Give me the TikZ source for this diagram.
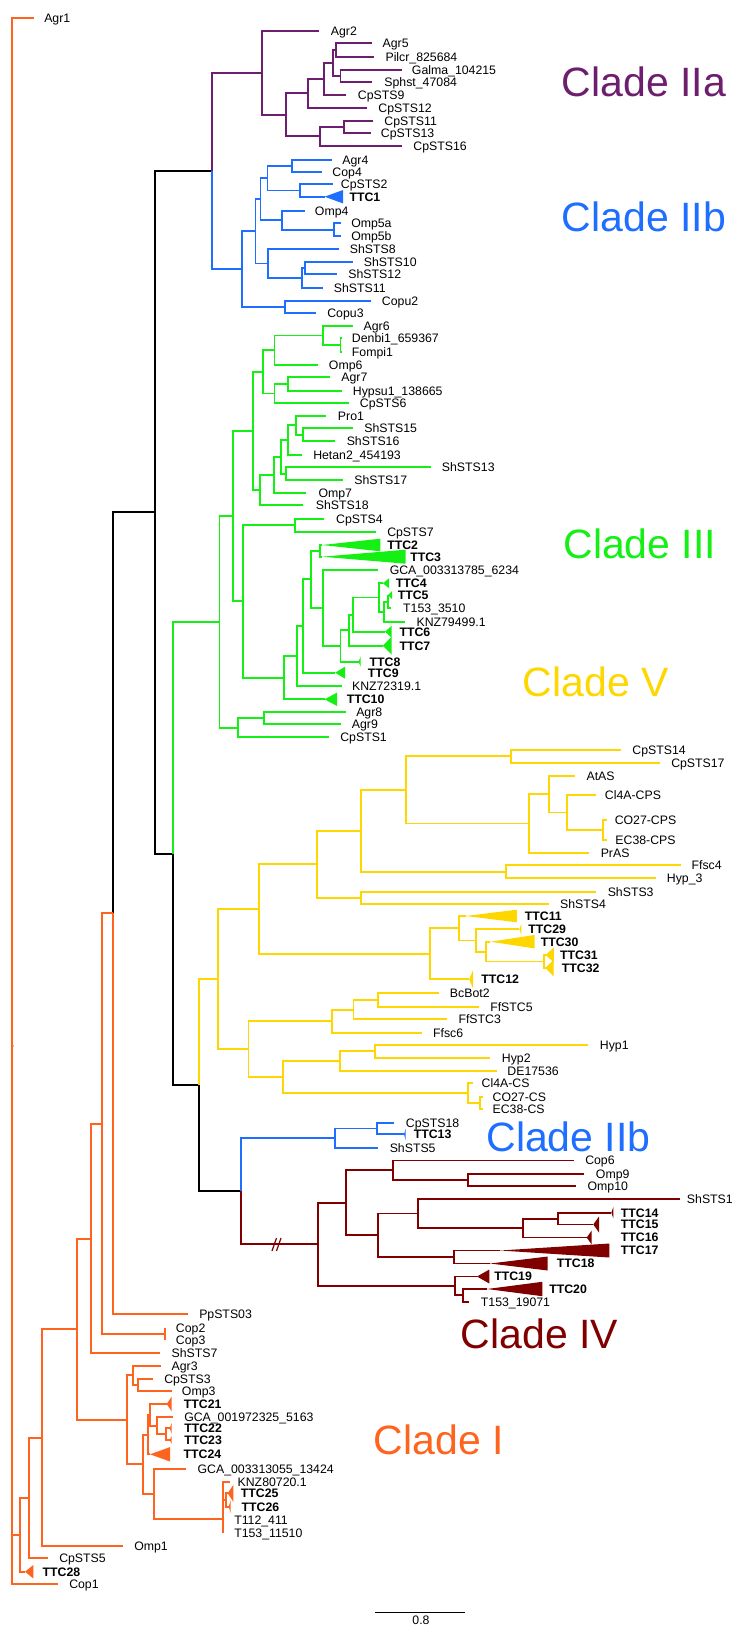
\documentclass[tikz,border=0pt]{standalone}
\usepackage{fontspec}
\setmainfont{Liberation Sans}
\definecolor{colI}{RGB}{255,100,30}
\definecolor{colIIa}{RGB}{110,30,110}
\definecolor{colIIb}{RGB}{30,110,255}
\definecolor{colIII}{RGB}{20,240,20}
\definecolor{colIV}{RGB}{128,0,0}
\definecolor{colV}{RGB}{255,215,0}
\tikzset{
  lab/.style={anchor=base west, inner sep=0pt, text=black, font=\fontsize{12.3}{14}\selectfont, yshift=-4.4pt},
  blab/.style={lab, font=\fontsize{12.3}{14}\selectfont\bfseries},
  clade/.style={anchor=base west, inner sep=0pt, text depth=0pt, font=\fontsize{41}{46}\selectfont},
}
% leaf: name, tip x, y, label x, text
\newcommand{\leafnode}[5]{\coordinate (#1) at (#2,#3); \node[lab] (#1l) at (#4,#3) {#5};}
% collapsed clade: name, apex x, y, base x, half height, label x, text
\newcommand{\cladewedge}[7]{\coordinate (#1) at (#2,#3); \fill (#1) -- (#4,#3-#5) -- (#4,#3+#5) -- cycle; \node[blab] (#1l) at (#6,#3) {#7};}

\begin{document}
\begin{tikzpicture}[x=1pt,y=-1pt,line width=1.9pt]
\useasboundingbox (0,0) rectangle (733,1628);

% backbone
\coordinate (R) at (12.3,1046);
\coordinate (N20) at (20,1534.9);
\coordinate (N29) at (29.3,1498);
\coordinate (N42) at (41.7,1437.6);
\coordinate (N77) at (76.7,1329.2);
\coordinate (N92) at (91,1238.6);
\coordinate (N102) at (101.7,1123.9);
\coordinate (N113) at (113.3,913.4);
\coordinate (N155) at (155,512.4);
\coordinate (N173) at (173.3,853.6);
\coordinate (N199) at (199,1085.2);
\coordinate (N241) at (240.7,1191.3);
\coordinate (np) at (212,171.1);

\draw (N113) |- (N155);
\draw (N155) |- (np) (N155) |- (N173);
\draw (N173) |- (N199);
\draw (N199) |- (N241);
\fill (R) circle (1.3);

% Clade IIa
\begin{scope}[color=colIIa]
\leafnode{Agr2}{319.3}{30.7}{330}{Agr2}
\leafnode{Agr5}{372.2}{43.3}{381.7}{Agr5}
\leafnode{Pilcr}{374}{56.7}{384.6}{Pilcr\_825684}
\leafnode{Galma}{402.2}{70}{411}{Galma\_104215}
\leafnode{Sphst}{372.2}{81.7}{383.5}{Sphst\_47084}
\leafnode{CpSTS9}{345.8}{95}{357}{CpSTS9}
\leafnode{CpSTS12}{366.9}{107.7}{377.5}{CpSTS12}
\leafnode{CpSTS11}{373.3}{120.7}{383.5}{CpSTS11}
\leafnode{CpSTS13}{370.5}{132.7}{380}{CpSTS13}
\leafnode{CpSTS16}{402.2}{145.7}{412.5}{CpSTS16}
\coordinate (pa) at (336.3,50);
\coordinate (pb) at (340.5,75.8);
\coordinate (pc) at (332.7,62.9);
\coordinate (pd) at (323.9,79);
\coordinate (pe) at (307.7,93.3);
\coordinate (pf) at (344,126.7);
\coordinate (pg) at (320.4,136.2);
\coordinate (ph) at (285.8,114.8);
\coordinate (pi) at (261.8,72.7);
\draw (np) |- (pi);
\draw (pi) |- (Agr2) (pi) |- (ph);
\draw (ph) |- (pe) (ph) |- (pg);
\draw (pe) |- (pd) (pe) |- (CpSTS12);
\draw (pd) |- (pc) (pd) |- (CpSTS9);
\draw (pc) |- (pa) (pc) |- (pb);
\draw (pa) |- (Agr5) (pa) |- (Pilcr);
\draw (pb) |- (Galma) (pb) |- (Sphst);
\draw (pg) |- (pf) (pg) |- (CpSTS16);
\draw (pf) |- (CpSTS11) (pf) |- (CpSTS13);
\node[clade] (IIa) at (561,96.7) {Clade IIa};
\end{scope}

% Clade IIb
\begin{scope}[color=colIIb]
\leafnode{Agr4}{331.7}{160}{341.5}{Agr4}
\leafnode{Cop4}{322}{172.3}{331.5}{Cop4}
\leafnode{CpSTS2}{333}{184.3}{340}{CpSTS2}
\cladewedge{TTC1}{324.6}{196.7}{343}{6.7}{348.6}{TTC1}
\leafnode{Omp4}{305.2}{210.7}{314}{Omp4}
\leafnode{Omp5a}{340.5}{223.3}{350.3}{Omp5a}
\leafnode{Omp5b}{340.5}{236}{350.3}{Omp5b}
\leafnode{ShSTS8}{338.7}{249}{349}{ShSTS8}
\leafnode{ShSTS10}{352.8}{262.3}{363}{ShSTS10}
\leafnode{ShSTS12}{337}{274.3}{347.5}{ShSTS12}
\leafnode{ShSTS11}{322.8}{287.7}{333}{ShSTS11}
\leafnode{Copu2}{370.5}{300.7}{381}{Copu2}
\leafnode{Copu3}{315.8}{313.3}{326.4}{Copu3}
\coordinate (ba) at (292.2,166.2);
\coordinate (bb) at (300,190.5);
\coordinate (bc) at (267.5,178.3);
\coordinate (bd) at (334.1,229.7);
\coordinate (be) at (282.3,220.2);
\coordinate (bg) at (260.5,199.2);
\coordinate (bh) at (305.2,268.3);
\coordinate (bi) at (301.7,278);
\coordinate (bj) at (268.2,263.5);
\coordinate (bk) at (255.5,231.4);
\coordinate (bl) at (285.1,307);
\coordinate (bm) at (241.7,269.2);
\draw (np) |- (bm);
\draw (bm) |- (bk) (bm) |- (bl);
\draw (bk) |- (bg) (bk) |- (bj);
\draw (bg) |- (bc) (bg) |- (be);
\draw (bc) |- (ba) (bc) |- (bb);
\draw (ba) |- (Agr4) (ba) |- (Cop4);
\draw (bb) |- (CpSTS2) (bb) |- (TTC1);
\draw (be) |- (Omp4) (be) |- (bd);
\draw (bd) |- (Omp5a) (bd) |- (Omp5b);
\draw (bj) |- (ShSTS8) (bj) |- (bi);
\draw (bi) |- (bh) (bi) |- (ShSTS11);
\draw (bh) |- (ShSTS10) (bh) |- (ShSTS12);
\draw (bl) |- (Copu2) (bl) |- (Copu3);
\node[clade] (IIbtop) at (561,231.7) {Clade IIb};
% lower IIb
\leafnode{CpSTS18}{394.4}{1122.7}{405}{CpSTS18}
\cladewedge{TTC13}{404}{1134.3}{405.7}{6}{412.8}{TTC13}
\leafnode{ShSTS5}{377.5}{1147.7}{388.8}{ShSTS5}
\coordinate (bn) at (376.8,1128.5);
\coordinate (bo) at (335.2,1138.1);
\draw (N241) |- (bo);
\draw (bo) |- (bn) (bo) |- (ShSTS5);
\draw (bn) |- (CpSTS18) (bn) |- (TTC13);
\node[clade] (IIblow) at (485.5,1151.7) {Clade IIb};
\end{scope}

% Clade III
\begin{scope}[color=colIII]
\leafnode{Agr6}{352.8}{326}{362.7}{Agr6}
\leafnode{Denbi}{342}{338.3}{351}{Denbi1\_659367}
\leafnode{Fompi}{342}{351.7}{351}{Fompi1}
\leafnode{Omp6}{317.6}{365}{328}{Omp6}
\leafnode{Agr7}{329.9}{376.7}{340.5}{Agr7}
\leafnode{Hypsu}{342.2}{390.7}{352}{Hypsu1\_138665}
\leafnode{CpSTS6}{348.6}{403.3}{359}{CpSTS6}
\leafnode{Pro1}{326.4}{416}{337}{Pro1}
\leafnode{ShSTS15}{352.8}{428.3}{363.4}{ShSTS15}
\leafnode{ShSTS16}{335.2}{441}{345.8}{ShSTS16}
\leafnode{Hetan}{301.7}{455}{312.3}{Hetan2\_454193}
\leafnode{ShSTS13}{431.1}{467.3}{441}{ShSTS13}
\leafnode{ShSTS17}{343}{480}{353.5}{ShSTS17}
\leafnode{Omp7}{306.3}{492.7}{317.6}{Omp7}
\leafnode{ShSTS18}{303.4}{505.3}{315}{ShSTS18}
\leafnode{CpSTS4}{323.9}{518.7}{335.2}{CpSTS4}
\leafnode{CpSTS7}{375.7}{531.7}{386.3}{CpSTS7}
\cladewedge{TTC2}{322}{545}{380.3}{6.3}{386.3}{TTC2}
\cladewedge{TTC3}{322}{556.7}{405.7}{7}{409.3}{TTC3}
\leafnode{GCAa}{378.2}{570}{388.8}{GCA\_003313785\_6234}
\cladewedge{TTC4}{383}{583.3}{389}{5}{395}{TTC4}
\cladewedge{TTC5}{388}{595}{392}{4}{396.8}{TTC5}
\leafnode{Ta}{391}{608.3}{402.2}{T153\_3510}
\leafnode{KNZa}{405}{621.7}{415.6}{KNZ79499.1}
\cladewedge{TTC6}{385}{631.7}{391.7}{6}{398.6}{TTC6}
\cladewedge{TTC7}{382.8}{645.7}{391.7}{9}{398.6}{TTC7}
\cladewedge{TTC8}{358.6}{661.7}{360.6}{5}{368.7}{TTC8}
\cladewedge{TTC9}{335.2}{672.7}{345}{6}{367}{TTC9}
\leafnode{KNZb}{342.2}{685.7}{351.1}{KNZ72319.1}
\cladewedge{TTC10}{324.6}{699.3}{337}{6.7}{345.8}{TTC10}
\leafnode{Agr8}{345.8}{711.7}{355.3}{Agr8}
\leafnode{Agr9}{340.5}{724}{351}{Agr9}
\leafnode{CpSTS1}{328.8}{737.3}{339.4}{CpSTS1}
\coordinate (ga) at (340.5,345);
\coordinate (gb) at (322.8,335.5);
\coordinate (gc) at (274.5,350.3);
\coordinate (gd) at (288.3,383.7);
\coordinate (ge) at (274.5,393.5);
\coordinate (gf) at (263.3,371.9);
\coordinate (gg) at (303.4,434.7);
\coordinate (gh) at (296.4,425.3);
\coordinate (gi) at (287.6,440.2);
\coordinate (gj) at (285.8,473.7);
\coordinate (gk) at (281,457);
\coordinate (gl) at (274,474.8);
\coordinate (gm) at (260,490);
\coordinate (gn) at (252.7,431);
\coordinate (go) at (294.6,525.2);
\coordinate (gp) at (320.4,550.8);
\coordinate (gq) at (388,601.7);
\coordinate (gr) at (383.9,611.7);
\coordinate (gs) at (379.3,597.5);
\coordinate (gt) at (352.8,614.6);
\coordinate (gu) at (349.3,630.2);
\coordinate (gv) at (340.5,646);
\coordinate (gw) at (322.8,608);
\coordinate (gx) at (311.2,579.4);
\coordinate (gy) at (303.4,626);
\coordinate (gz) at (296.7,655.9);
\coordinate (gA) at (284.3,677.6);
\coordinate (gB) at (242.7,601.4);
\coordinate (gC) at (233,516.2);
\coordinate (gD) at (263.6,717.8);
\coordinate (gE) at (238.2,727.6);
\coordinate (gR) at (219.5,621.9);
\draw (N173) |- (gR);
\draw (gR) |- (gC) (gR) |- (gE);
\draw (gC) |- (gn) (gC) |- (gB);
\draw (gn) |- (gf) (gn) |- (gm);
\draw (gf) |- (gc) (gf) |- (ge);
\draw (gc) |- (gb) (gc) |- (Omp6);
\draw (gb) |- (Agr6) (gb) |- (ga);
\draw (ga) |- (Denbi) (ga) |- (Fompi);
\draw (ge) |- (gd) (ge) |- (CpSTS6);
\draw (gd) |- (Agr7) (gd) |- (Hypsu);
\draw (gm) |- (gl) (gm) |- (ShSTS18);
\draw (gl) |- (gk) (gl) |- (Omp7);
\draw (gk) |- (gi) (gk) |- (gj);
\draw (gi) |- (gh) (gi) |- (Hetan);
\draw (gh) |- (Pro1) (gh) |- (gg);
\draw (gg) |- (ShSTS15) (gg) |- (ShSTS16);
\draw (gj) |- (ShSTS13) (gj) |- (ShSTS17);
\draw (gB) |- (go) (gB) |- (gA);
\draw (go) |- (CpSTS4) (go) |- (CpSTS7);
\draw (gA) |- (gz) (gA) |- (TTC10);
\draw (gz) |- (gy) (gz) |- (KNZb);
\draw (gy) |- (gx) (gy) |- (TTC9);
\draw (gx) |- (gp) (gx) |- (gw);
\draw (gp) |- (TTC2) (gp) |- (TTC3);
\draw (gw) |- (GCAa) (gw) |- (gv);
\draw (gv) |- (gu) (gv) |- (TTC8);
\draw (gu) |- (gt) (gu) |- (TTC7);
\draw (gt) |- (gs) (gt) |- (TTC6);
\draw (gs) |- (TTC4) (gs) |- (gr);
\draw (gr) |- (gq) (gr) |- (KNZa);
\draw (gq) |- (TTC5) (gq) |- (Ta);
\draw (gE) |- (gD) (gE) |- (CpSTS1);
\draw (gD) |- (Agr8) (gD) |- (Agr9);
\node[clade] (III) at (562.5,558.3) {Clade III};
\end{scope}

% Clade V
\begin{scope}[color=colV]
\leafnode{CpSTS14}{620.9}{750}{631.5}{CpSTS14}
\leafnode{CpSTS17}{659.7}{762.7}{670.3}{CpSTS17}
\leafnode{AtAS}{575}{776}{585.6}{AtAS}
\leafnode{ClCPS}{596.2}{795}{604}{Cl4A-CPS}
\leafnode{COCPS}{606.8}{820}{613.8}{CO27-CPS}
\leafnode{ECCPS}{606.8}{840}{614.5}{EC38-CPS}
\leafnode{PrAS}{589.2}{852.7}{599.8}{PrAS}
\leafnode{Ffsc4}{680.9}{865}{690.7}{Ffsc4}
\leafnode{Hypthree}{656.2}{878.3}{666}{Hyp\_3}
\leafnode{ShSTS3}{596.2}{891.7}{606.8}{ShSTS3}
\leafnode{ShSTS4}{548.6}{904}{559.2}{ShSTS4}
\cladewedge{TTC11}{465.7}{916}{516.8}{6.3}{523.9}{TTC11}
\cladewedge{TTC29}{519.4}{929.3}{521.4}{5.5}{527.4}{TTC29}
\cladewedge{TTC30}{490.4}{941.7}{534.5}{6.7}{539.8}{TTC30}
\cladewedge{TTC31}{545.5}{955}{553.9}{7.5}{559.2}{TTC31}
\cladewedge{TTC32}{545.5}{968}{553.5}{8.3}{561}{TTC32}
\cladewedge{TTC12}{469.2}{979.3}{473}{9}{480.5}{TTC12}
\leafnode{BcBot2}{438.5}{993.3}{449}{BcBot2}
\leafnode{FfSTC5}{479.1}{1006.7}{489.3}{FfSTC5}
\leafnode{FfSTC3}{447.3}{1019.3}{457.6}{FfSTC3}
\leafnode{Ffsc6}{421.9}{1032.7}{432.2}{Ffsc6}
\leafnode{Hyp1}{588.4}{1045}{599}{Hyp1}
\leafnode{Hyp2}{490.4}{1057.7}{501}{Hyp2}
\leafnode{DE}{497}{1070.7}{506.5}{DE17536}
\leafnode{ClCS}{473}{1083.3}{480.7}{Cl4A-CS}
\leafnode{COCS}{483}{1096.7}{491.7}{CO27-CS}
\leafnode{ECCS}{483}{1109}{491.7}{EC38-CS}
\coordinate (ya) at (511.4,756.3);
\coordinate (yb) at (603.3,830);
\coordinate (yc) at (566.9,812.5);
\coordinate (yd) at (548.6,794.3);
\coordinate (ye) at (529.2,823.5);
\coordinate (yf) at (406.4,789.9);
\coordinate (yg) at (505.8,871.7);
\coordinate (yh) at (360.6,830.8);
\coordinate (yi) at (360.6,897.8);
\coordinate (yj) at (316.9,864.3);
\coordinate (yk) at (544.4,961.5);
\coordinate (yl) at (486.2,951.6);
\coordinate (ym) at (476.3,940.5);
\coordinate (yn) at (459.3,928.3);
\coordinate (yo) at (429.7,953.8);
\coordinate (yp) at (259.3,909);
\coordinate (yq) at (378.2,1000);
\coordinate (yr) at (353.5,1009.7);
\coordinate (ys) at (331.7,1021.2);
\coordinate (yt) at (375,1051.3);
\coordinate (yu) at (339.8,1061);
\coordinate (yv) at (480.3,1102.8);
\coordinate (yw) at (468.3,1093);
\coordinate (yx) at (283,1077);
\coordinate (yy) at (248.5,1049.1);
\coordinate (yR) at (218.3,979);
\draw (N199) |- (yR);
\draw (yR) |- (yp) (yR) |- (yy);
\draw (yp) |- (yj) (yp) |- (yo);
\draw (yj) |- (yh) (yj) |- (yi);
\draw (yh) |- (yf) (yh) |- (yg);
\draw (yf) |- (ya) (yf) |- (ye);
\draw (ya) |- (CpSTS14) (ya) |- (CpSTS17);
\draw (ye) |- (yd) (ye) |- (PrAS);
\draw (yd) |- (AtAS) (yd) |- (yc);
\draw (yc) |- (ClCPS) (yc) |- (yb);
\draw (yb) |- (COCPS) (yb) |- (ECCPS);
\draw (yg) |- (Ffsc4) (yg) |- (Hypthree);
\draw (yi) |- (ShSTS3) (yi) |- (ShSTS4);
\draw (yo) |- (yn) (yo) |- (TTC12);
\draw (yn) |- (TTC11) (yn) |- (ym);
\draw (ym) |- (TTC29) (ym) |- (yl);
\draw (yl) |- (TTC30) (yl) |- (yk);
\draw (yk) |- (TTC31) (yk) |- (TTC32);
\draw (yy) |- (ys) (yy) |- (yx);
\draw (ys) |- (yr) (ys) |- (Ffsc6);
\draw (yr) |- (yq) (yr) |- (FfSTC3);
\draw (yq) |- (BcBot2) (yq) |- (FfSTC5);
\draw (yx) |- (yu) (yx) |- (yw);
\draw (yu) |- (yt) (yu) |- (DE);
\draw (yt) |- (Hyp1) (yt) |- (Hyp2);
\draw (yw) |- (ClCS) (yw) |- (yv);
\draw (yv) |- (COCS) (yv) |- (ECCS);
\node[clade] (V) at (522,696.7) {Clade V};
\end{scope}

% Clade IV
\begin{scope}[color=colIV]
\leafnode{Cop6}{574}{1160.5}{584.3}{Cop6}
\leafnode{Omp9}{584.3}{1174}{595}{Omp9}
\leafnode{Omp10}{575.7}{1186.3}{586.7}{Omp10}
\leafnode{ShSTS1}{680}{1199}{686}{ShSTS1}
\cladewedge{TTC14}{611.3}{1212.7}{613.3}{5.5}{620}{TTC14}
\cladewedge{TTC15}{593.3}{1224.5}{599}{8}{620}{TTC15}
\cladewedge{TTC16}{586.7}{1237.5}{591.7}{7}{620}{TTC16}
\cladewedge{TTC17}{500}{1250.5}{609.3}{7}{620}{TTC17}
\cladewedge{TTC18}{490}{1263.5}{547.7}{7}{556}{TTC18}
\cladewedge{TTC19}{477}{1276.5}{489.3}{7}{493.3}{TTC19}
\cladewedge{TTC20}{487}{1289}{542.3}{7.2}{548.3}{TTC20}
\leafnode{Tb}{469.3}{1301.7}{480}{T153\_19071}
\coordinate (ra) at (468.4,1180.1);
\coordinate (rb) at (393.4,1170.3);
\coordinate (rc) at (558.3,1218.6);
\coordinate (rd) at (522.7,1228);
\coordinate (re) at (417.8,1213.5);
\coordinate (rf) at (454.2,1257);
\coordinate (rg) at (378.2,1235.3);
\coordinate (rh) at (345.8,1202.8);
\coordinate (ri) at (462.7,1295.3);
\coordinate (rj) at (455,1285.9);
\coordinate (rk) at (317.6,1244.4);
\draw (N241) |- (rk);
\draw (rk) |- (rh) (rk) |- (rj);
\draw (rh) |- (rb) (rh) |- (rg);
\draw (rb) |- (Cop6) (rb) |- (ra);
\draw (ra) |- (Omp9) (ra) |- (Omp10);
\draw (rg) |- (re) (rg) |- (rf);
\draw (re) |- (ShSTS1) (re) |- (rd);
\draw (rd) |- (rc) (rd) |- (TTC16);
\draw (rc) |- (TTC14) (rc) |- (TTC15);
\draw (rf) |- (TTC17) (rf) |- (TTC18);
\draw (rj) |- (TTC19) (rj) |- (ri);
\draw (ri) |- (TTC20) (ri) |- (Tb);
\draw[line width=1.2pt] (272,1251) -- (276.5,1238) (276.5,1251) -- (281,1238);
\node[clade] (IV) at (460,1348.3) {Clade IV};
\end{scope}

% Clade I
\begin{scope}[color=colI]
\leafnode{Agr1}{34}{18.3}{43.3}{Agr1}
\leafnode{PpSTS03}{187.7}{1314.3}{198.3}{PpSTS03}
\leafnode{Cop2}{165}{1328.3}{175}{Cop2}
\leafnode{Cop3}{165}{1340}{175}{Cop3}
\leafnode{ShSTS7}{160}{1353.3}{170.7}{ShSTS7}
\leafnode{Agr3}{160.7}{1365.7}{170.7}{Agr3}
\leafnode{CpSTS3}{153.3}{1379}{163.3}{CpSTS3}
\leafnode{Omp3}{171.7}{1391}{181}{Omp3}
\cladewedge{TTC21}{166.7}{1404}{171.7}{7.5}{183}{TTC21}
\leafnode{GCAb}{172.7}{1417.3}{183.3}{GCA\_001972325\_5163}
\cladewedge{TTC22}{169.7}{1428.3}{171.7}{5.5}{183.3}{TTC22}
\cladewedge{TTC23}{169.7}{1440}{171.7}{4}{183.3}{TTC23}
\cladewedge{TTC24}{150}{1454.3}{170}{7.2}{182.7}{TTC24}
\leafnode{GCAc}{186}{1469}{196.7}{GCA\_003313055\_13424}
\leafnode{KNZc}{230}{1481.7}{236.7}{KNZ80720.1}
\cladewedge{TTC25}{227.7}{1493.3}{233.3}{8.5}{240}{TTC25}
\cladewedge{TTC26}{228.7}{1506.7}{230.7}{6.5}{240.7}{TTC26}
\leafnode{Tc}{222.7}{1520}{233.3}{T112\_411}
\leafnode{Td}{222.7}{1533.3}{233.3}{T153\_11510}
\leafnode{Omp1}{122.7}{1546}{133.3}{Omp1}
\leafnode{CpSTS5}{48.3}{1558.3}{58.3}{CpSTS5}
\cladewedge{TTC28}{25}{1571.7}{33.3}{6.7}{41.7}{TTC28}
\leafnode{Cop1}{58.3}{1584.3}{68.3}{Cop1}
\coordinate (cp) at (165,1334.2);
\coordinate (oa) at (138.3,1385);
\coordinate (ob) at (132.7,1375.3);
\coordinate (oc) at (165.7,1434.2);
\coordinate (od) at (156.7,1425.8);
\coordinate (oe) at (150,1414.9);
\coordinate (of) at (148.3,1434.6);
\coordinate (og) at (226,1500);
\coordinate (oi) at (222.7,1519);
\coordinate (oj) at (154,1494.2);
\coordinate (ok) at (142.7,1464.4);
\coordinate (ol) at (126.7,1419.9);
\draw (R) |- (Agr1) (R) |- (N20) (R) |- (Cop1);
\draw (N20) |- (N29) (N20) |- (TTC28);
\draw (N29) |- (N42) (N29) |- (CpSTS5);
\draw (N42) |- (N77) (N42) |- (Omp1);
\draw (N77) |- (N92) (N77) |- (ol);
\draw (N92) |- (N102) (N92) |- (ShSTS7);
\draw (N102) |- (N113) (N102) |- (cp);
\draw (N113) |- (PpSTS03);
\draw (cp) |- (Cop2) (cp) |- (Cop3);
\draw (ol) |- (ob) (ol) |- (ok);
\draw (ob) |- (Agr3) (ob) |- (oa);
\draw (oa) |- (CpSTS3) (oa) |- (Omp3);
\draw (ok) |- (of) (ok) |- (oj);
\draw (of) |- (oe) (of) |- (TTC24);
\draw (oe) |- (TTC21) (oe) |- (od);
\draw (od) |- (GCAb) (od) |- (oc);
\draw (oc) |- (TTC22) (oc) |- (TTC23);
\draw (oj) |- (GCAc) (oj) |- (oi);
\draw (oi) |- (KNZc) (oi) |- (og) (oi) |- (Tc) (oi) |- (Td);
\draw (og) |- (TTC25) (og) |- (TTC26);
\node[clade] (I) at (373,1454) {Clade I};
\end{scope}

% scale bar
\coordinate (sa) at (375,1612.3);
\coordinate (sb) at (465,1612.3);
\draw[line width=1.4pt] (sa) -- (sb);
\node[lab] (scale) at (411.5,1620.5) {0.8};
\end{tikzpicture}
\end{document}
